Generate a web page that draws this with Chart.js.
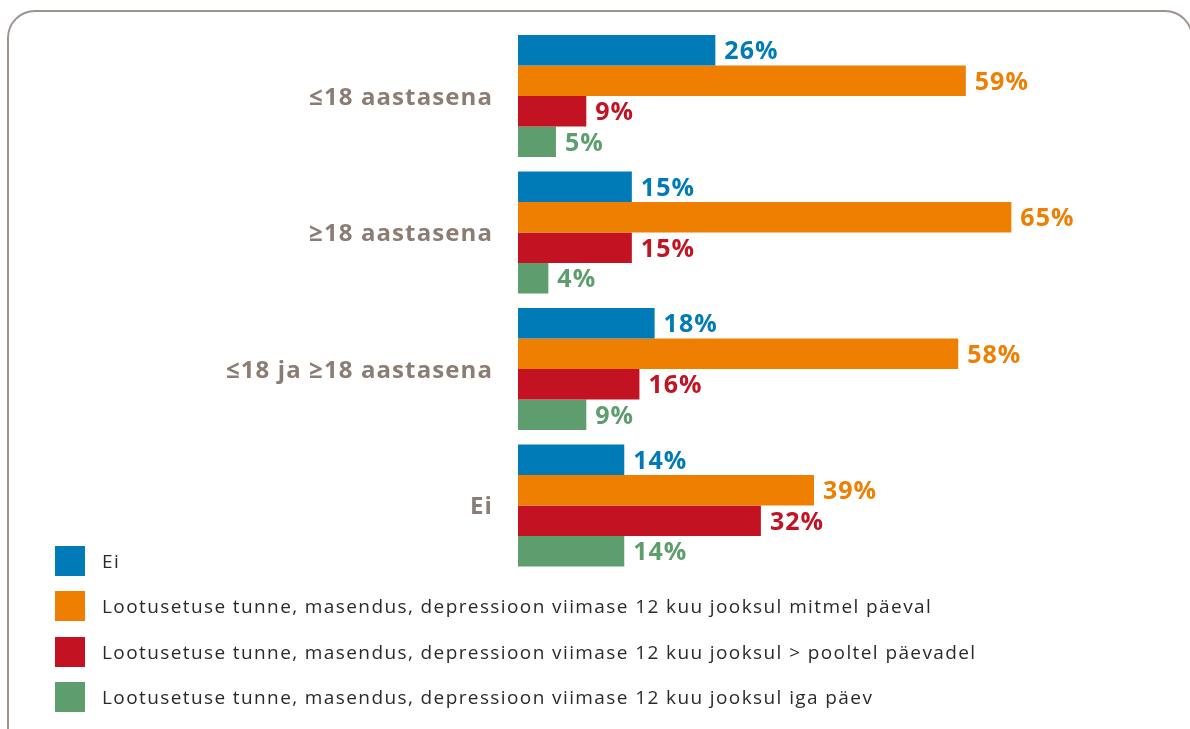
<!DOCTYPE html>
<html><head><meta charset="utf-8">
<script src="https://cdn.jsdelivr.net/npm/chart.js@4.4.0/dist/chart.umd.min.js"></script>
<style>
html,body{margin:0;padding:0;background:#fff;width:1190px;height:729px;overflow:hidden;}
#frame{position:absolute;left:7px;top:10px;width:1186px;height:780px;border:2px solid #9d948e;border-radius:28px;box-sizing:border-box;}
#wrap{position:absolute;left:0;top:0;width:1190px;height:729px;}
#legend{position:absolute;left:55px;top:546px;font-family:"Open Sans",sans-serif;font-size:19px;letter-spacing:1.4px;color:#2a2a2a;}
.item{display:flex;align-items:center;height:30px;margin-bottom:15.3px;white-space:nowrap;}
.box{width:30px;height:30px;margin-right:17px;flex:none;}
</style>
</head><body>
<div id="frame"></div>
<div id="wrap"><canvas id="c" width="1190" height="729"></canvas></div>
<div id="legend"></div>
<script>
const categories = ["≤18 aastasena", "≥18 aastasena", "≤18 ja ≥18 aastasena", "Ei"];
const seriesNames = [
  "Ei",
  "Lootusetuse tunne, masendus, depressioon viimase 12 kuu jooksul mitmel päeval",
  "Lootusetuse tunne, masendus, depressioon viimase 12 kuu jooksul > pooltel päevadel",
  "Lootusetuse tunne, masendus, depressioon viimase 12 kuu jooksul iga päev"
];
const seriesEi = [26, 15, 18, 14];
const seriesMitmel = [59, 65, 58, 39];
const seriesPooltel = [9, 15, 16, 32];
const seriesIga = [5, 4, 9, 14];
const seriesColors = ["#007bb8", "#ee7f00", "#c31323", "#5e9d6d"];

const allSeries = [seriesEi, seriesMitmel, seriesPooltel, seriesIga];

const spacing = {
  id: "spacing",
  beforeDraw(chart) { chart.ctx.letterSpacing = "1.1px"; },
  afterDraw(chart) { chart.ctx.letterSpacing = "0px"; }
};

const valueLabels = {
  id: "valueLabels",
  afterDatasetsDraw(chart) {
    const ctx = chart.ctx;
    ctx.save();
    ctx.letterSpacing = "1px";
    ctx.font = "bold 25px 'Open Sans'";
    ctx.textBaseline = "middle";
    ctx.textAlign = "left";
    chart.data.datasets.forEach((ds, i) => {
      const meta = chart.getDatasetMeta(i);
      ctx.fillStyle = ds.backgroundColor;
      meta.data.forEach((bar, j) => {
        ctx.fillText(ds.data[j] + "%", bar.x + 9, bar.y + 2);
      });
    });
    ctx.restore();
  }
};

const chart = new Chart(document.getElementById("c"), {
  type: "bar",
  data: {
    labels: categories,
    datasets: allSeries.map((d, i) => ({
      label: seriesNames[i],
      data: d,
      backgroundColor: seriesColors[i],
      borderWidth: 0,
      categoryPercentage: 0.894,
      barPercentage: 1
    }))
  },
  options: {
    indexAxis: "y",
    responsive: false,
    animation: false,
    layout: { padding: { left: 0, top: 27.75, right: 64.8, bottom: 155.25 } },
    plugins: { legend: { display: false }, tooltip: { enabled: false } },
    scales: {
      x: { min: 0, max: 80, display: false },
      y: {
        grid: { display: false },
        border: { display: false },
        ticks: {
          padding: 17,
          labelOffset: 2,
          color: "#8b7d74",
          font: { family: "'Open Sans'", weight: "bold", size: 24 }
        },
        afterFit(s) { s.width = 518; s.paddingTop = 0; s.paddingBottom = 0; }
      }
    }
  },
  plugins: [spacing, valueLabels]
});

const legend = document.getElementById("legend");
chart.data.datasets.forEach(ds => {
  const item = document.createElement("div");
  item.className = "item";
  const box = document.createElement("div");
  box.className = "box";
  box.style.background = ds.backgroundColor;
  const txt = document.createElement("span");
  txt.textContent = ds.label;
  item.appendChild(box);
  item.appendChild(txt);
  legend.appendChild(item);
});
</script>
</body></html>
